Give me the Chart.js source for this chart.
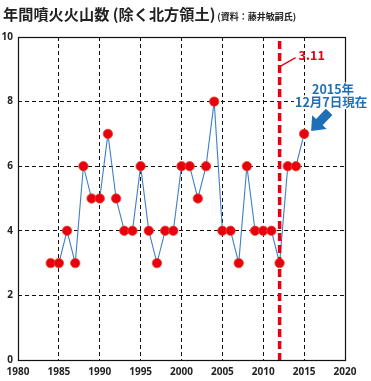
<!DOCTYPE html>
<html><head><meta charset="utf-8">
<script src="https://cdn.jsdelivr.net/npm/chart.js@4/dist/chart.umd.min.js"></script>
<style>html,body{margin:0;padding:0;background:#fff;}canvas{display:block;}</style>
</head><body>
<canvas id="c" width="371" height="381"></canvas>
<script>
const years = [1984,1985,1986,1987,1988,1989,1990,1991,1992,1993,1994,1995,1996,1997,1998,1999,2000,2001,2002,2003,2004,2005,2006,2007,2008,2009,2010,2011,2012,2013,2014,2015];
const counts = [3,3,4,3,6,5,5,7,5,4,4,6,4,3,4,4,6,6,5,6,8,4,4,3,6,4,4,4,3,6,6,7];
const xTicks = [1980,1985,1990,1995,2000,2005,2010,2015,2020];
const yTicks = [0,2,4,6,8,10];
const quakeYear = 2012;
const titleText = '年間噴火火山数 (除く北方領土)';
const sourceText = '(資料：藤井敏嗣氏)';
const quakeLabel = '3.11';
const noteLines = ['2015年','12月7日現在'];

const points = years.map((y,i)=>({x:y,y:counts[i]}));
const JP = '"Noto Sans CJK JP","Noto Sans",sans-serif';

const overlay = {
  id:'overlay',
  afterDraw(chart){
    const {ctx, chartArea:a, scales:{x,y}} = chart;
    ctx.save();
    // box
    ctx.strokeStyle='#111'; ctx.lineWidth=1.2; ctx.setLineDash([]);
    ctx.strokeRect(a.left+0.5,a.top+0.5,a.right-a.left,a.bottom-a.top);
    // red dashed line
    const qx = x.getPixelForValue(quakeYear);
    ctx.strokeStyle='#e60012'; ctx.lineWidth=3.5; ctx.setLineDash([8,4]);
    ctx.beginPath(); ctx.moveTo(qx,a.top+4); ctx.lineTo(qx,a.bottom); ctx.stroke();
    ctx.setLineDash([]);
    // 3.11 leader
    ctx.lineWidth=1.3;
    ctx.beginPath(); ctx.moveTo(qx+1,y.getPixelForValue(9.1)); ctx.lineTo(qx+16,y.getPixelForValue(9.36)); ctx.stroke();
    ctx.fillStyle='#e60012'; ctx.font='bold 12.5px '+JP; ctx.textBaseline='middle'; ctx.textAlign='left';
    ctx.fillText(quakeLabel, qx+19, y.getPixelForValue(9.45));
    // note with white background
    ctx.font='bold 12.5px '+JP; ctx.textAlign='center';
    const nx = x.getPixelForValue(2018.3);
    const y1 = y.getPixelForValue(8.38), y2 = y.getPixelForValue(7.98);
    const w0 = ctx.measureText(noteLines[0]).width, w1 = ctx.measureText(noteLines[1]).width;
    ctx.fillStyle='#fff';
    ctx.fillRect(nx+2-w0/2-1, y1-7, w0+2, 14);
    ctx.fillRect(nx-w1/2-1, y2-7, w1+2, 14);
    ctx.fillStyle='#1f6fb8';
    ctx.fillText(noteLines[0], nx+2, y1);
    ctx.fillText(noteLines[1], nx, y2);
    // arrow pointing to last point
    const lx = x.getPixelForValue(years[years.length-1]), ly = y.getPixelForValue(counts[counts.length-1]);
    const tx = lx+7, ty = ly-3, sx = lx+25, sy = ly-22;
    const ang = Math.atan2(ty-sy, tx-sx);
    ctx.translate(tx,ty); ctx.rotate(ang);
    ctx.beginPath();
    const L = Math.hypot(tx-sx,ty-sy);
    ctx.moveTo(0,0); ctx.lineTo(-12,-10); ctx.lineTo(-12,-4.5); ctx.lineTo(-L,-4.5); ctx.lineTo(-L,4.5); ctx.lineTo(-12,4.5); ctx.lineTo(-12,10); ctx.closePath();
    ctx.fill();
    ctx.restore();
    // title
    ctx.save();
    ctx.fillStyle='#222'; ctx.textBaseline='alphabetic'; ctx.textAlign='left';
    ctx.font='bold 15.2px '+JP;
    ctx.fillText(titleText, 3, 20);
    const w = ctx.measureText(titleText).width;
    ctx.font='bold 9px '+JP;
    ctx.fillText(sourceText, 3+w+2, 20);
    ctx.restore();
  }
};

new Chart(document.getElementById('c'),{
  type:'line',
  data:{datasets:[{
    data:points,
    borderColor:'#3f7fc6', borderWidth:1.1,
    pointBackgroundColor:'#e60012', pointBorderColor:'#ee4a1e', pointBorderWidth:0.8,
    pointRadius:4.7, tension:0
  }]},
  options:{
    responsive:false, animation:false,
    layout:{padding:{top:37,right:26,left:0,bottom:0}},
    plugins:{legend:{display:false},tooltip:{enabled:false},title:{display:false}},
    scales:{
      x:{type:'linear',min:1980,max:2020,
        afterBuildTicks(s){s.ticks=xTicks.map(v=>({value:v}));},
        afterFit(s){s.height=21;},
        grid:{color:'#111',lineWidth:1,drawTicks:false},
        border:{display:false,dash:[4,3]},
        ticks:{padding:6,color:'#222',font:{family:'"Noto Sans",sans-serif',weight:'bold',size:10},callback:v=>String(v)}
      },
      y:{min:0,max:10,
        afterBuildTicks(s){s.ticks=yTicks.map(v=>({value:v}));},
        afterFit(s){s.width=18;},
        grid:{color:'#111',lineWidth:1,drawTicks:false},
        border:{display:false,dash:[4,3]},
        ticks:{padding:5,color:'#222',font:{family:'"Noto Sans",sans-serif',weight:'bold',size:10}}
      }
    }
  },
  plugins:[overlay]
});
</script>
</body></html>
